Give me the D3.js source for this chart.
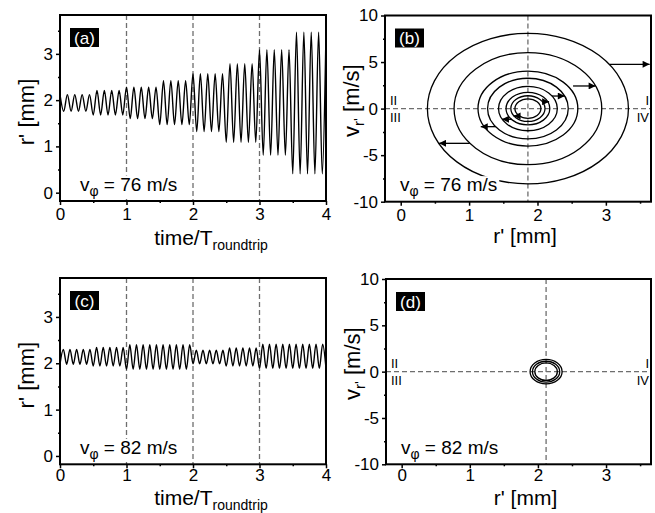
<!DOCTYPE html>
<html>
<head>
<meta charset="utf-8">
<script src="https://cdn.jsdelivr.net/npm/d3@7"></script>
<style>
body { margin: 0; background: #fff; }
text { font-family: "Liberation Sans", Arial, sans-serif; }
</style>
</head>
<body>
<svg id="fig" width="655" height="513"></svg>
<script>
// ---- data ----
// (a) v_phi = 76 m/s : extrema of r'(t)
var aTime = [0,0.056,0.111,0.167,0.222,0.278,0.333,0.389,0.444,0.5,0.556,0.611,0.667,0.722,0.778,0.833,0.889,0.944,
  1,1.056,1.111,1.167,1.222,1.278,1.333,1.389,1.444,1.5,1.556,1.611,1.667,1.722,1.778,1.833,1.889,1.944,
  2,2.056,2.111,2.167,2.222,2.278,2.333,2.389,2.444,2.5,2.556,2.611,2.667,2.722,2.778,2.833,2.889,2.944,
  3,3.056,3.111,3.167,3.222,3.278,3.333,3.389,3.444,3.5,3.556,3.611,3.667,3.722,3.778,3.833,3.889,3.944,4];
var aR = [2.12,1.76,2.12,1.76,2.12,1.76,2.12,1.76,2.12,1.68,2.21,1.68,2.21,1.68,2.21,1.68,2.21,1.68,
  2.28,1.60,2.28,1.60,2.28,1.60,2.28,1.60,2.28,1.47,2.42,1.47,2.42,1.47,2.42,1.47,2.42,1.47,
  2.57,1.32,2.57,1.32,2.57,1.32,2.57,1.32,2.57,1.09,2.79,1.09,2.79,1.09,2.79,1.09,2.79,1.09,
  3.09,0.81,3.09,0.81,3.09,0.81,3.09,0.81,3.09,0.41,3.47,0.41,3.47,0.41,3.47,0.41,3.47,0.41,
  3.47];

// (c) v_phi = 82 m/s : extrema of r'(t)
var cTime = [0,0.05,0.1,0.15,0.2,0.25,0.3,0.35,0.4,0.45,0.5,0.55,0.6,0.65,0.7,0.75,0.8,0.85,0.9,0.95,
  1,1.05,1.1,1.15,1.2,1.25,1.3,1.35,1.4,1.45,1.5,1.55,1.6,1.65,1.7,1.75,1.8,1.85,1.9,1.95,
  2,2.05,2.1,2.15,2.2,2.25,2.3,2.35,2.4,2.45,2.5,2.55,2.6,2.65,2.7,2.75,2.8,2.85,2.9,2.95,
  3,3.05,3.1,3.15,3.2,3.25,3.3,3.35,3.4,3.45,3.5,3.55,3.6,3.65,3.7,3.75,3.8,3.85,3.9,3.95,4];
var cR = [1.98,2.30,1.98,2.30,1.98,2.30,1.98,2.30,1.98,2.30,1.94,2.34,1.94,2.34,1.94,2.34,1.94,2.34,1.94,2.34,
  1.87,2.40,1.87,2.40,1.87,2.40,1.87,2.40,1.87,2.40,1.87,2.40,1.87,2.40,1.87,2.40,1.87,2.40,1.87,2.40,
  1.99,2.28,1.99,2.28,1.99,2.28,1.99,2.28,1.99,2.28,1.94,2.33,1.94,2.33,1.94,2.33,1.94,2.33,1.94,2.33,
  1.89,2.41,1.89,2.41,1.89,2.41,1.89,2.41,1.89,2.41,1.89,2.41,1.89,2.41,1.89,2.41,1.89,2.41,1.89,2.41,
  1.89];

// (b) phase space orbits, v_phi = 76 m/s
var bCenter = 1.86;
var bAmpR = [0.19, 0.25, 0.32, 0.43, 0.59, 0.73, 1.08, 1.47];
var bAmpV = [1.05, 1.38, 1.75, 2.38, 3.26, 4.02, 6.02, 8.09];
// jumps between orbits (horizontal arrows)
var bArrowV    = [-0.79, 0.74, -1.15, 1.35, -1.94, 2.43, -3.73, 4.76];
var bArrowFrom = [1.69, 2.08, 1.62, 2.21, 1.39, 2.52, 1.01, 3.05];
var bArrowTo   = [1.65, 2.17, 1.48, 2.40, 1.17, 2.85, 0.56, 3.64];

// (d) phase space orbits, v_phi = 82 m/s
var dCenter = 2.12;
var dAmpR = [0.165, 0.20, 0.235];
var dAmpV = [0.95, 1.12, 1.32];

var timeTicks = [0, 1, 2, 3, 4], timeMinor = [0.5, 1.5, 2.5, 3.5];
var rTicks = [0, 1, 2, 3], rMinor = [0.5, 1.5, 2.5, 3.5];
var vTicks = [-10, -5, 0, 5, 10], vMinor = [-7.5, -2.5, 2.5, 7.5];
var roundtrips = [1, 2, 3];

// ---- layout ----
var svg = d3.select("#fig");
var tickFont = 17, titleFont = 21, labelFont = 19;

function frameOf(left, top, right, bottom) {
  return {left: left, top: top, right: right, bottom: bottom};
}

function axes(g, box, x, y, xt, xm, yt, ym, xPad) {
  var fmt = function(d) { return String(d); };
  var xa = g.append("g").attr("transform", "translate(0," + box.bottom + ")");
  xa.call(d3.axisBottom(x).tickValues(xt).tickSize(4).tickPadding(xPad).tickFormat(fmt));
  xa.append("g").call(d3.axisBottom(x).tickValues(xm).tickSize(2).tickFormat(""));
  var ya = g.append("g").attr("transform", "translate(" + box.left + ",0)");
  ya.call(d3.axisLeft(y).tickValues(yt).tickSize(4).tickPadding(3).tickFormat(fmt));
  ya.append("g").call(d3.axisLeft(y).tickValues(ym).tickSize(2).tickFormat(""));
  g.selectAll(".domain").remove();
  g.selectAll(".tick line").attr("stroke", "#000").attr("stroke-width", 1.5);
  g.selectAll(".tick text").attr("font-size", tickFont).attr("fill", "#000")
    .attr("font-family", "Liberation Sans, Arial, sans-serif");
}

function panelTag(g, box, s) {
  g.append("rect").attr("x", box.left + 10).attr("y", box.top + 13)
    .attr("width", 29).attr("height", 19).attr("fill", "#000");
  g.append("text").attr("x", box.left + 24.5).attr("y", box.top + 28.5)
    .attr("text-anchor", "middle").attr("font-size", 17).attr("fill", "#fff").text(s);
}

function speedLabel(g, box, dx, speed) {
  var t = g.append("text").attr("x", box.left + dx).attr("y", box.bottom - 10.5)
    .attr("font-size", labelFont).attr("fill", "#000");
  t.append("tspan").text("v");
  t.append("tspan").attr("dy", 5).attr("font-size", 14).text("\u03c6");
  t.append("tspan").attr("dy", -5).text(" = " + speed + " m/s");
  var bb = t.node().getBBox();
  g.insert("rect", function() { return t.node(); })
    .attr("x", bb.x - 1).attr("y", bb.y + 2).attr("width", bb.width + 3).attr("height", bb.height - 2)
    .attr("fill", "#fff");
}

function dashed(g, x1, y1, x2, y2) {
  g.append("line").attr("x1", x1).attr("y1", y1).attr("x2", x2).attr("y2", y2)
    .attr("stroke", "#6e6e6e").attr("stroke-width", 1.3).attr("stroke-dasharray", "5,3");
}

function frame(g, box) {
  g.append("rect").attr("x", box.left).attr("y", box.top)
    .attr("width", box.right - box.left).attr("height", box.bottom - box.top)
    .attr("fill", "none").attr("stroke", "#000").attr("stroke-width", 2);
}

// arrow head marker
svg.append("defs").append("marker").attr("id", "head")
  .attr("viewBox", "0 0 10 10").attr("refX", 10).attr("refY", 5)
  .attr("markerWidth", 9).attr("markerHeight", 7).attr("markerUnits", "userSpaceOnUse")
  .attr("orient", "auto")
  .append("path").attr("d", "M0,0L10,5L0,10Z").attr("fill", "#000");

// ---- time series panels ----
function timePanel(box, times, vals, tag, speed, titleY, xPad) {
  var g = svg.append("g");
  var x = d3.scaleLinear().domain([0, 4]).range([box.left, box.right]);
  var y = d3.scaleLinear().domain([-0.18, 3.84]).range([box.bottom, box.top]);
  axes(g, box, x, y, timeTicks, timeMinor, rTicks, rMinor, xPad);

  roundtrips.forEach(function(t) { dashed(g, x(t), box.top, x(t), box.bottom); });

  var pts = times.map(function(t, i) { return [t, vals[i]]; });
  g.append("path").datum(pts)
    .attr("d", d3.line().x(function(d) { return x(d[0]); }).y(function(d) { return y(d[1]); })
      .curve(d3.curveMonotoneX))
    .attr("fill", "none").attr("stroke", "#000").attr("stroke-width", 1.4);

  panelTag(g, box, tag);
  speedLabel(g, box, 20, speed);
  frame(g, box);

  // axis titles
  g.append("text").attr("transform", "translate(" + (box.left - 26) + "," + ((box.top + box.bottom) / 2 + 4) + ") rotate(-90)")
    .attr("text-anchor", "middle").attr("font-size", titleFont + 1).text("r' [mm]");
  var xt = g.append("text").attr("x", (box.left + box.right) / 2 + 18).attr("y", titleY)
    .attr("text-anchor", "middle").attr("font-size", titleFont);
  xt.append("tspan").text("time/T");
  xt.append("tspan").attr("dy", 5).attr("font-size", 14).text("roundtrip");
}

// ---- phase space panels ----
function phasePanel(box, center, ampR, ampV, tag, speed, titleY, xPad, arrows) {
  var g = svg.append("g");
  var x = d3.scaleLinear().domain([-0.23, 3.66]).range([box.left, box.right]);
  var y = d3.scaleLinear().domain([-10, 10]).range([box.bottom, box.top]);
  axes(g, box, x, y, rTicks, rMinor, vTicks, vMinor, xPad);

  dashed(g, x(center), box.top, x(center), box.bottom);
  dashed(g, box.left, y(0), box.right, y(0));

  g.selectAll("ellipse.orbit").data(ampR).enter().append("ellipse")
    .attr("class", "orbit")
    .attr("cx", x(center)).attr("cy", y(0))
    .attr("rx", function(d) { return x(center + d) - x(center); })
    .attr("ry", function(d, i) { return y(0) - y(ampV[i]); })
    .attr("fill", "none").attr("stroke", "#000").attr("stroke-width", 1.3);

  if (arrows) {
    g.selectAll("line.jump").data(arrows.v).enter().append("line")
      .attr("class", "jump")
      .attr("x1", function(d, i) { return x(arrows.from[i]); })
      .attr("x2", function(d, i) { return x(arrows.to[i]); })
      .attr("y1", function(d) { return y(d); })
      .attr("y2", function(d) { return y(d); })
      .attr("stroke", "#000").attr("stroke-width", 1.3)
      .attr("marker-end", "url(#head)");
  }

  // quadrant labels
  var q = g.append("g").attr("font-family", "Liberation Serif, Times New Roman, serif")
    .attr("font-size", 13).attr("fill", "#000");
  q.append("text").attr("x", box.left + 5).attr("y", y(0) - 4).text("II");
  q.append("text").attr("x", box.left + 5).attr("y", y(0) + 13).text("III");
  q.append("text").attr("x", box.right - 2).attr("y", y(0) - 4).attr("text-anchor", "end").text("I");
  q.append("text").attr("x", box.right - 2).attr("y", y(0) + 13).attr("text-anchor", "end").text("IV");

  panelTag(g, box, tag);
  speedLabel(g, box, 15, speed);
  frame(g, box);

  var yt = g.append("text").attr("transform", "translate(" + (box.left - 26) + "," + ((box.top + box.bottom) / 2 - 8) + ") rotate(-90)")
    .attr("text-anchor", "middle").attr("font-size", titleFont + 1);
  yt.append("tspan").text("v");
  yt.append("tspan").attr("dy", 5).attr("font-size", 15).text("r'");
  yt.append("tspan").attr("dy", -5).text(" [m/s]");
  g.append("text").attr("x", (box.left + box.right) / 2 + 7).attr("y", titleY)
    .attr("text-anchor", "middle").attr("font-size", titleFont).text("r' [mm]");
}

timePanel(frameOf(60, 15, 326, 201), aTime, aR, "(a)", 76, 245, 3);
phasePanel(frameOf(385, 15.5, 651, 201.7), bCenter, bAmpR, bAmpV, "(b)", 76, 243, 3,
  {v: bArrowV, from: bArrowFrom, to: bArrowTo});
timePanel(frameOf(60, 278, 326, 464.3), cTime, cR, "(c)", 82, 505, 1);
phasePanel(frameOf(386, 279, 651, 464.3), dCenter, dAmpR, dAmpV, "(d)", 82, 505, 1, null);
</script>
</body>
</html>
